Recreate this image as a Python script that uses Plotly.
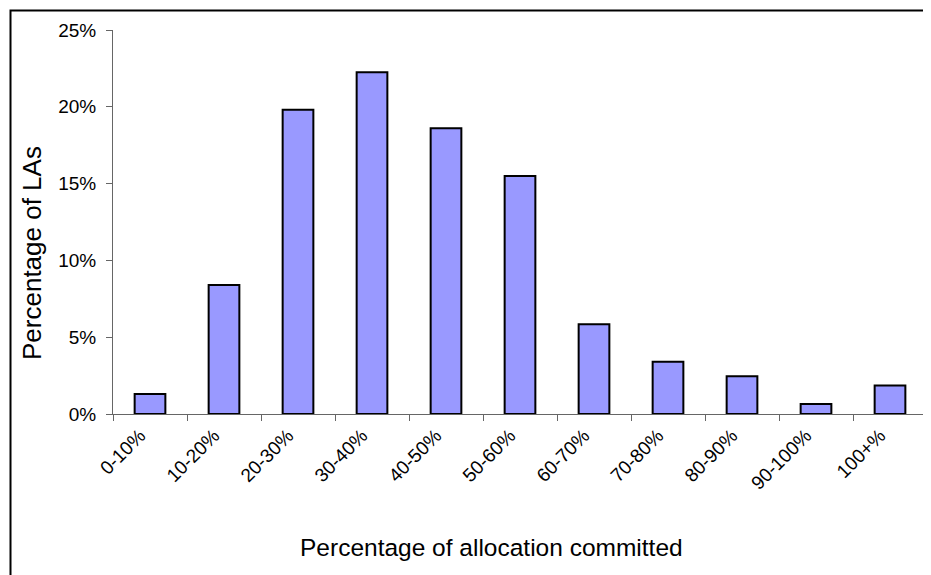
import plotly.graph_objects as go

categories = ["0-10%", "10-20%", "20-30%", "30-40%", "40-50%", "50-60%",
              "60-70%", "70-80%", "80-90%", "90-100%", "100+%"]
values = [1.3, 8.4, 19.8, 22.25, 18.6, 15.5, 5.85, 3.4, 2.45, 0.65, 1.85]
y_ticks = [0, 5, 10, 15, 20, 25]
y_tick_labels = ["0%", "5%", "10%", "15%", "20%", "25%"]

# page has an 8px body margin; figure coordinates = page coordinates - 8
OFF = 8
W, H = 923, 567
L, R, T, B = 105, 4, 22, 161
PW, PH = W - L - R, H - T - B

def px_x(p):
    return (p - OFF - L) / PW

def px_y(p):
    return (H - B - (p - OFF)) / PH

fig = go.Figure()
fig.add_trace(go.Bar(
    x=categories, y=values,
    marker=dict(color="#9999FF", line=dict(color="black", width=2)),
    hoverinfo="skip",
))

font = "Liberation Sans, Arial, sans-serif"
fig.update_layout(
    width=W, height=H,
    margin=dict(l=L, r=R, t=T, b=B),
    paper_bgcolor="white", plot_bgcolor="white",
    showlegend=False,
    bargap=0.585,
    font=dict(family=font, color="black"),
    xaxis=dict(
        type="category",
        tickangle=-45,
        tickson="boundaries",
        ticks="outside", ticklen=6, tickcolor="#666",
        showline=True, linecolor="#666", linewidth=1,
        showgrid=False,
        ticklabelshift=-10,
        ticklabelstandoff=2,
        tickfont=dict(size=19, family=font, color="black"),
    ),
    yaxis=dict(
        range=[0, 25],
        tickvals=y_ticks, ticktext=y_tick_labels,
        ticks="outside", ticklen=6, tickcolor="#666",
        showline=True, linecolor="#666", linewidth=1,
        showgrid=False, zeroline=False,
        ticklabelstandoff=6,
        tickfont=dict(size=19, family=font, color="black"),
    ),
    annotations=[
        dict(text="Percentage of allocation committed", xref="paper", yref="paper",
             x=px_x(491), y=px_y(547), xanchor="center", yanchor="middle",
             showarrow=False, font=dict(size=24.5, family=font, color="black")),
        dict(text="Percentage of LAs", xref="paper", yref="paper",
             x=px_x(32), y=px_y(253), xanchor="center", yanchor="middle",
             textangle=-90,
             showarrow=False, font=dict(size=26, family=font, color="black")),
    ],
    shapes=[
        dict(type="rect", xref="paper", yref="paper",
             x0=px_x(10.5), x1=px_x(945), y0=px_y(10.5), y1=px_y(590),
             line=dict(color="black", width=2), fillcolor="rgba(0,0,0,0)",
             layer="above"),
    ],
)

fig.write_html("out.html")
